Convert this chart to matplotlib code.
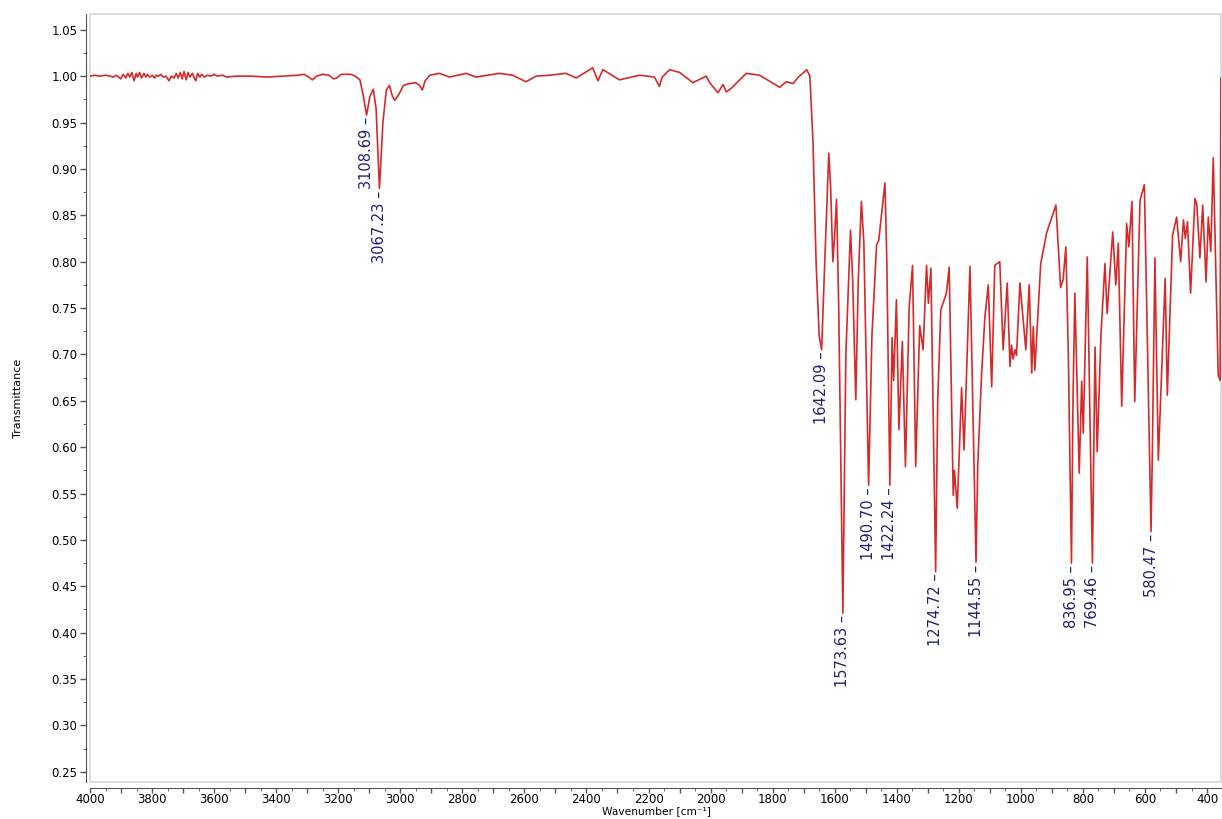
import matplotlib
matplotlib.use("Agg")
import matplotlib.pyplot as plt
from matplotlib.ticker import MultipleLocator, FuncFormatter
from matplotlib.patches import Rectangle

# Спектр: волновое число [cm-1] и пропускание
wavenumber = [
    4000, 3985, 3970, 3950, 3935, 3925, 3915, 3901, 3893, 3885, 3878, 3872, 3865, 3858,
    3851, 3847, 3840, 3834, 3826, 3820, 3815, 3808, 3799, 3792, 3786, 3779, 3772, 3763,
    3755, 3745, 3738, 3729, 3722, 3716, 3709, 3703, 3697, 3690, 3684, 3678, 3670, 3664,
    3659, 3653, 3646, 3640, 3632, 3621, 3610, 3600, 3590, 3573, 3560, 3530, 3480, 3430,
    3380, 3330, 3310, 3295, 3283, 3270, 3250, 3230, 3215, 3205, 3190, 3160, 3145, 3130,
    3120, 3108.69, 3098, 3087, 3078, 3067.23, 3056, 3045, 3035, 3025, 3018, 3005, 2990,
    2970, 2950, 2938, 2929, 2920, 2905, 2890,
    2874, 2842, 2788, 2756, 2681, 2638, 2595, 2562, 2519, 2466, 2433, 2380, 2363, 2347,
    2294, 2229, 2181, 2165, 2156, 2132, 2100, 2057, 2014, 2003, 1976, 1960, 1949, 1933,
    1885, 1842, 1777, 1756, 1734, 1720, 1700, 1690, 1680, 1670, 1660, 1650,
    1642.09, 1632, 1619, 1613, 1606, 1600, 1594, 1587, 1573.63, 1564, 1549, 1542, 1532,
    1524, 1514, 1506, 1490.70, 1480, 1465, 1458, 1438, 1432, 1422.24, 1415, 1410, 1401,
    1393, 1382, 1372, 1360, 1349, 1339, 1326, 1315, 1304, 1298, 1290, 1274.72, 1268,
    1258, 1251, 1240, 1231, 1226, 1218, 1214, 1205, 1191, 1183, 1164, 1144.55, 1139,
    1127, 1116, 1105, 1094, 1084, 1068, 1057, 1044, 1035, 1030, 1025, 1019, 1014, 1003,
    984, 973, 965, 960, 955, 936, 917, 887, 872, 864, 855, 847, 836.95, 832, 826, 812,
    804, 799, 786, 769.46, 761, 754, 742, 729, 722, 704, 694, 686, 675, 659, 652, 642,
    633, 616, 602, 580.47, 576, 568, 557, 535, 528, 511, 498, 485, 476, 470, 463, 453,
    439, 433, 423, 414, 403, 396, 388, 380, 371, 364, 358, 355.5,
]
transmittance = [
    1.000, 1.001, 1.000, 1.001, 1.000, 0.999, 1.001, 0.997, 1.002, 0.998, 1.003, 0.999, 1.004, 0.995,
    1.003, 0.999, 1.004, 0.998, 1.003, 0.999, 1.002, 0.999, 1.001, 0.998, 1.001, 1.000, 1.002, 0.999,
    1.000, 0.995, 1.000, 0.998, 1.003, 0.998, 1.004, 0.997, 1.005, 0.996, 1.004, 0.999, 1.003, 0.998,
    0.995, 1.003, 0.999, 1.002, 0.999, 1.001, 1.000, 1.002, 1.000, 1.001, 0.999, 1.000, 1.000, 0.999,
    1.000, 1.001, 1.002, 0.999, 0.996, 1.000, 1.002, 1.001, 0.997, 0.998, 1.002, 1.002, 1.000, 0.996,
    0.980, 0.958, 0.978, 0.986, 0.965, 0.879, 0.950, 0.985, 0.990, 0.978, 0.974, 0.980, 0.990,
    0.992, 0.993, 0.990, 0.985, 0.995, 1.001, 1.002,
    1.003, 0.999, 1.003, 0.999, 1.003, 1.001, 0.994, 1.000, 1.001, 1.003, 0.998, 1.009, 0.995, 1.007,
    0.996, 1.001, 0.999, 0.989, 0.999, 1.007, 1.004, 0.993, 1.000, 0.993, 0.982, 0.991, 0.983, 0.987,
    1.003, 1.001, 0.988, 0.994, 0.992, 0.998, 1.004, 1.007, 1.000, 0.930, 0.800, 0.720,
    0.705, 0.800, 0.917, 0.880, 0.800, 0.830, 0.867, 0.750, 0.421, 0.700, 0.834, 0.780, 0.651,
    0.780, 0.865, 0.820, 0.559, 0.720, 0.818, 0.823, 0.885, 0.800, 0.559, 0.718, 0.672, 0.759,
    0.619, 0.714, 0.579, 0.751, 0.796, 0.579, 0.731, 0.705, 0.796, 0.755, 0.793, 0.466, 0.650,
    0.748, 0.755, 0.766, 0.794, 0.700, 0.548, 0.575, 0.534, 0.664, 0.597, 0.795, 0.476, 0.580,
    0.676, 0.740, 0.775, 0.665, 0.796, 0.800, 0.705, 0.777, 0.687, 0.710, 0.695, 0.705, 0.699, 0.777,
    0.705, 0.775, 0.680, 0.730, 0.683, 0.798, 0.831, 0.861, 0.772, 0.780, 0.816, 0.700, 0.475, 0.650, 0.766, 0.572,
    0.671, 0.615, 0.805, 0.475, 0.708, 0.595, 0.720, 0.798, 0.744, 0.832, 0.775, 0.820, 0.644, 0.841, 0.816, 0.865,
    0.649, 0.866, 0.883, 0.509, 0.600, 0.804, 0.586, 0.782, 0.656, 0.829, 0.848, 0.800, 0.845, 0.825, 0.843, 0.766,
    0.868, 0.862, 0.804, 0.861, 0.778, 0.848, 0.811, 0.912, 0.780, 0.678, 0.672, 0.998,
]

# Подписанные пики
peak_wn = [3108.69, 3067.23, 1642.09, 1573.63, 1490.70, 1422.24, 1274.72, 1144.55, 836.95, 769.46, 580.47]
peak_t = [0.958, 0.879, 0.705, 0.421, 0.559, 0.559, 0.466, 0.476, 0.475, 0.475, 0.509]

fig = plt.figure(figsize=(12.22, 8.19), dpi=100)
ax = fig.add_axes([90 / 1222, 1 - 782 / 819, 1131 / 1222, 768 / 819])

ax.plot(wavenumber, transmittance, color='#d42a2a', lw=1.2)

for w, t in zip(peak_wn, peak_t):
    ax.annotate('%.2f –' % w, xy=(w, t), xytext=(0, -1.5), textcoords='offset points',
                rotation=90, rotation_mode='anchor', ha='right', va='center',
                fontsize=10.5, color='#20236e')

ax.set_xlim(4000, 355)
ax.set_ylim(0.239, 1.067)

# оси
for s in ['top', 'right']:
    ax.spines[s].set_visible(False)
ax.spines['left'].set_position(('outward', 3))
ax.spines['bottom'].set_position(('outward', 4))
ax.spines['left'].set_color('#555555')
ax.spines['bottom'].set_color('#555555')
ax.add_patch(Rectangle((0, 0), 1, 1, transform=ax.transAxes, fill=False,
                       edgecolor='#d6d6d6', lw=1.2, clip_on=False))

ax.xaxis.set_major_locator(MultipleLocator(100))
ax.xaxis.set_minor_locator(MultipleLocator(50))
ax.xaxis.set_major_formatter(FuncFormatter(lambda v, p: '%d' % v if round(v) % 200 == 0 else ''))
ax.yaxis.set_major_locator(MultipleLocator(0.05))
ax.yaxis.set_minor_locator(MultipleLocator(0.025))
ax.yaxis.set_major_formatter(FuncFormatter(lambda v, p: '%.2f' % v))

ax.tick_params(axis='both', which='major', labelsize=8.5, color='#555555', width=1)
ax.tick_params(axis='x', which='major', length=3.3, pad=0.3)
ax.tick_params(axis='x', which='minor', length=2.0, color='#555555')
ax.tick_params(axis='y', which='major', length=4.5, pad=1.5)
ax.tick_params(axis='y', which='minor', length=2.5, color='#555555')

ax.set_xlabel('Wavenumber [cm⁻¹]', fontsize=7.7)
ax.set_ylabel('Transmittance', fontsize=8)
ax.xaxis.set_label_coords(0.501, -0.0316)
ax.yaxis.set_label_coords(-0.059, 0.5)

fig.savefig('out.png', dpi=100)
